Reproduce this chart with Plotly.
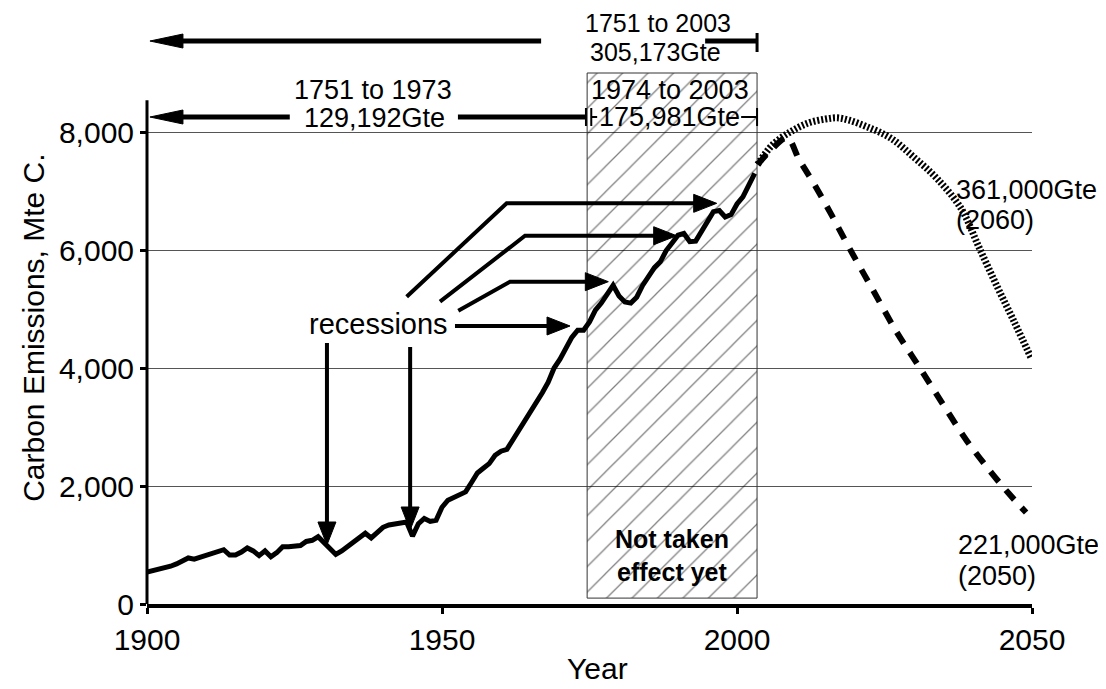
import plotly.graph_objects as go

# ---------------- data ----------------
years = list(range(1900, 2004))
emissions = [
    540, 560, 580, 620, 640, 680, 720, 780, 760, 790,        # 1900-1909
    820, 840, 880, 920, 830, 830, 880, 950, 900, 820,        # 1910-1919
    900, 800, 870, 970, 970, 975, 990, 1060, 1080, 1140,     # 1920-1929
    1040, 930, 840, 900, 970, 1040, 1130, 1200, 1120, 1200,  # 1930-1939
    1300, 1340, 1360, 1390, 1390, 1150, 1360, 1450, 1400, 1420,  # 1940-1949
    1640, 1760, 1800, 1840, 1900, 2060, 2220, 2300, 2380, 2520,  # 1950-1959
    2590, 2620, 2780, 2920, 3100, 3270, 3420, 3580, 3760, 4000,  # 1960-1969
    4150, 4320, 4520, 4640, 4640, 4780, 4980, 5100, 5250, 5400,  # 1970-1979
    5220, 5120, 5100, 5200, 5400, 5560, 5700, 5800, 5990, 6120,  # 1980-1989
    6250, 6280, 6140, 6150, 6320, 6450, 6650, 6670, 6560, 6600,  # 1990-1999
    6780, 6900, 7080, 7300,                                      # 2000-2003
]

low_years = [2003.5, 2006, 2008.5, 2010.5, 2013, 2016, 2019, 2023, 2027, 2031, 2035, 2039, 2043, 2046, 2049]
low_values = [7450, 7720, 7900, 7540, 7130, 6600, 6040, 5330, 4620, 4000, 3370, 2760, 2240, 1880, 1550]

high_years = [2003.5, 2006, 2009, 2012, 2015, 2017, 2019, 2022, 2026, 2030, 2034, 2038, 2041, 2044, 2047, 2049.8]
high_values = [7450, 7780, 8000, 8150, 8220, 8240, 8200, 8090, 7900, 7570, 7200, 6700, 6050, 5400, 4780, 4180]

y_ticks = [0, 2000, 4000, 6000, 8000]
y_tick_text = ["0", "2,000", "4,000", "6,000", "8,000"]
x_ticks = [1900, 1950, 2000, 2050]
x_tick_text = ["1900", "1950", "2000", "2050"]

period_start, period_end = 1974.6, 2003.4

FONT = "Arial, Liberation Sans, sans-serif"

# ---------------- layout geometry ----------------
# the page body has an 8px margin, so the figure is 8px smaller than the window
W, H = 1098, 681
ML, MR, MT, MB = 139, 74, 6, 85
X0, X1 = 1900, 2050
Y0, Y1 = 0, 10000
PXX = (W - ML - MR) / (X1 - X0)   # px per year
PXY = (H - MT - MB) / (Y1 - Y0)   # px per unit

fig = go.Figure()

# hatched "not taken effect yet" box
fig.add_trace(go.Scatter(
    x=[period_start, period_end, period_end, period_start, period_start],
    y=[100, 100, 9000, 9000, 100],
    mode="lines", fill="toself",
    fillcolor="rgba(0,0,0,0)",
    fillpattern=dict(shape="/", fgcolor="#000000", bgcolor="rgba(0,0,0,0)",
                     size=18, solidity=0.07),
    line=dict(color="#333333", width=1),
    hoverinfo="skip", showlegend=False,
))

# historic emissions
fig.add_trace(go.Scatter(x=years, y=emissions, mode="lines",
                         line=dict(color="black", width=5),
                         showlegend=False))
# projections
fig.add_trace(go.Scatter(x=high_years, y=high_values, mode="lines",
                         line=dict(color="black", width=7, dash="2px,2px", shape="spline"),
                         showlegend=False))
fig.add_trace(go.Scatter(x=low_years, y=low_values, mode="lines",
                         line=dict(color="black", width=6, dash="13px,11px", shape="spline"),
                         showlegend=False))

shapes = []
annotations = []


def line(xa, ya, xb, yb, width=4):
    shapes.append(dict(type="line", xref="x", yref="y", x0=xa, y0=ya, x1=xb, y1=yb,
                       line=dict(color="black", width=width)))


def polyline(pts, width=4):
    path = "M " + " L ".join(f"{x},{y}" for x, y in pts)
    shapes.append(dict(type="path", xref="x", yref="y", path=path,
                       line=dict(color="black", width=width)))


def arrow(tail, tip, width=4, hl=23, hw=18, via=None):
    """arrow from tail to tip with filled triangular head (sizes in px)."""
    pts = [tail] + (via or [])
    prev = pts[-1]
    dxp = (tip[0] - prev[0]) * PXX
    dyp = (tip[1] - prev[1]) * PXY
    n = (dxp ** 2 + dyp ** 2) ** 0.5
    ux, uy = dxp / n, dyp / n
    bx, by = -ux * hl, -uy * hl
    px_, py_ = -uy, ux
    base = (tip[0] + (bx + ux * 2) / PXX, tip[1] + (by + uy * 2) / PXY)
    polyline(pts + [base], width)
    p1 = (tip[0] + (bx + px_ * hw / 2) / PXX, tip[1] + (by + py_ * hw / 2) / PXY)
    p2 = (tip[0] + (bx - px_ * hw / 2) / PXX, tip[1] + (by - py_ * hw / 2) / PXY)
    shapes.append(dict(type="path", xref="x", yref="y",
                       path=f"M {tip[0]},{tip[1]} L {p1[0]},{p1[1]} L {p2[0]},{p2[1]} Z",
                       fillcolor="black", line=dict(color="black", width=1)))


def text(x, y, s, size=27, xanchor="center", bold=False, xref="x", yref="y", angle=0):
    annotations.append(dict(x=x, y=y, xref=xref, yref=yref, text=(f"<b>{s}</b>" if bold else s),
                            showarrow=False, xanchor=xanchor, yanchor="middle",
                            textangle=angle, borderpad=0,
                            font=dict(family=FONT, size=size, color="black")))


# y axis line (drawn as shape so it stops above 8,000)
shapes.append(dict(type="line", xref="paper", yref="y", x0=0, x1=0, y0=0, y1=8540,
                   line=dict(color="black", width=3)))

# top range arrows
row1, row2 = 9542, 8254
arrow((1966.8, row1), (1900.5, row1), width=5, hl=33, hw=14)
line(1994.6, row1, period_end, row1, 5)
line(period_end, 9678, period_end, 9356, 3)
text(1986.6, 9847, "1751 to 2003", size=25)
text(1986.2, 9356, "305,173Gte", size=25)

arrow((1924.2, row2), (1900.5, row2), width=5, hl=33, hw=14)
line(1952.7, row2, 1974.4, row2, 5)
line(1974.4, 8407, 1974.4, 8102, 2)
line(1975.3, 8407, 1975.3, 8102, 2)
line(1975.3, row2, 1976.3, row2, 2)
line(2000.7, row2, period_end, row2, 2)
line(period_end, 8407, period_end, 8102, 2)
text(1938.3, 8710, "1751 to 1973")
text(1938.5, 8237, "129,192Gte")
text(1988.6, 8720, "1974 to 2003")
text(1988.6, 8254, "175,981Gte")

# recession arrows
text(1939.2, 4740, "recessions", size=29)
arrow((1930.5, 4424), (1930.5, 1000), width=4)
arrow((1944.6, 4356), (1944.6, 1254), width=4)
arrow((1952.2, 4712), (1971.7, 4712), width=4)
arrow((1952.76, 4971), (1978.19, 5463), width=4, via=[(1961.53, 5463)])
arrow((1949.66, 5124), (1989.78, 6242), width=4, via=[(1964.07, 6242)])
arrow((1944.01, 5209), (1996.56, 6791), width=4, via=[(1960.96, 6791)])

# box label
text(1989.0, 830, "Not taken<br>effect yet", size=25, bold=True)

# projection labels
text(2037.0, 7017, "361,000Gte", size=27, xanchor="left")
text(2037.0, 6508, "(2060)", size=27, xanchor="left")
text(2037.3, 1000, "221,000Gte", size=27, xanchor="left")
text(2037.3, 475, "(2050)", size=27, xanchor="left")

# axis titles
text(-0.129, 4678, "Carbon Emissions, Mte C.", size=30, xref="paper", angle=-90)
text(1976.4, -0.1085, "Year", size=30, yref="paper")

fig.update_layout(
    width=W, height=H,
    margin=dict(l=ML, r=MR, t=MT, b=MB, pad=0),
    paper_bgcolor="white", plot_bgcolor="white",
    shapes=shapes, annotations=annotations,
    showlegend=False,
    xaxis=dict(range=[X0, X1], tickvals=x_ticks, ticktext=x_tick_text,
               showgrid=False, zeroline=False,
               showline=True, linecolor="black", linewidth=4,
               ticks="outside", ticklen=6, tickwidth=3, tickcolor="black",
               tickfont=dict(family=FONT, size=30, color="black")),
    yaxis=dict(range=[Y0, Y1], tickvals=y_ticks, ticktext=y_tick_text,
               showgrid=True, gridcolor="#555555", gridwidth=1,
               zeroline=False, showline=False,
               ticks="outside", ticklen=6, tickwidth=3, tickcolor="black",
               tickfont=dict(family=FONT, size=30, color="black")),
)

fig.write_html("out.html")
